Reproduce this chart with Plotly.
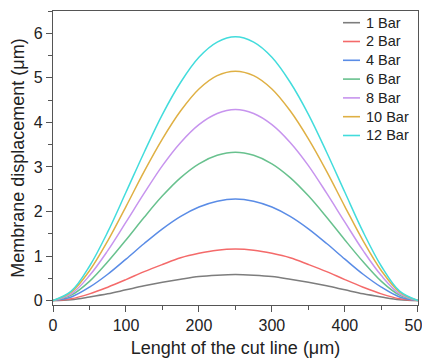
import plotly.graph_objects as go

# Length along the cut line (µm)
x_um = [0, 25, 50, 75, 100, 125, 150, 175, 200, 225, 250,
        275, 300, 325, 350, 375, 400, 425, 450, 475, 500]

# Membrane displacement (µm)
bar1 = [0, 0.02, 0.08, 0.15, 0.24, 0.33, 0.41, 0.48, 0.54, 0.57, 0.585,
        0.57, 0.54, 0.48, 0.41, 0.33, 0.24, 0.15, 0.08, 0.02, 0]
bar2 = [0, 0.04, 0.15, 0.30, 0.47, 0.65, 0.81, 0.96, 1.06, 1.13, 1.155,
        1.13, 1.06, 0.96, 0.81, 0.65, 0.47, 0.30, 0.15, 0.04, 0]
bar4 = [0, 0.08, 0.30, 0.59, 0.93, 1.28, 1.61, 1.89, 2.10, 2.23, 2.28,
        2.23, 2.10, 1.89, 1.61, 1.28, 0.93, 0.59, 0.30, 0.08, 0]
bar6 = [0, 0.12, 0.43, 0.87, 1.36, 1.87, 2.35, 2.76, 3.07, 3.26, 3.33,
        3.26, 3.07, 2.76, 2.35, 1.87, 1.36, 0.87, 0.43, 0.12, 0]
bar8 = [0, 0.15, 0.56, 1.12, 1.76, 2.41, 3.03, 3.55, 3.95, 4.20, 4.29,
        4.20, 3.95, 3.55, 3.03, 2.41, 1.76, 1.12, 0.56, 0.15, 0]
bar10 = [0, 0.19, 0.67, 1.34, 2.11, 2.90, 3.63, 4.26, 4.75, 5.05, 5.15,
         5.05, 4.75, 4.26, 3.63, 2.90, 2.11, 1.34, 0.67, 0.19, 0]
bar12 = [0, 0.21, 0.77, 1.54, 2.43, 3.33, 4.18, 4.90, 5.46, 5.80, 5.92,
         5.80, 5.46, 4.90, 4.18, 3.33, 2.43, 1.54, 0.77, 0.21, 0]

series_names = ["1 Bar", "2 Bar", "4 Bar", "6 Bar", "8 Bar", "10 Bar", "12 Bar"]
series_values = [bar1, bar2, bar4, bar6, bar8, bar10, bar12]
colors = ["#7d7d7d", "#f46a6a", "#5a8ce6", "#68c18e", "#c794ee", "#dfb044", "#42dcdc"]

x_ticks = [0, 100, 200, 300, 400, 500]
y_ticks = [0, 1, 2, 3, 4, 5, 6]

FONT = "Liberation Sans, Arial, sans-serif"
PAGE_OFF = 8  # browser default body margin
W, H = 430 - PAGE_OFF, 358 - PAGE_OFF
ML, MR, MT, MB = 53 - PAGE_OFF, 12, 11 - PAGE_OFF, 53
PW, PH = W - ML - MR, H - MT - MB

fig = go.Figure()
for name, vals, col in zip(series_names, series_values, colors):
    fig.add_trace(go.Scatter(
        x=x_um, y=vals, name=name, mode="lines", showlegend=False,
        line=dict(color=col, width=1.5, shape="spline", smoothing=1.0),
    ))

# Manual legend (compact row spacing like the reference); positions in screen px
def px_to_paper(px, py):
    fx, fy = px - PAGE_OFF, py - PAGE_OFF
    return (fx - ML) / PW, (H - MB - fy) / PH

row0, row_gap = 22.7, 18.8
for i, (name, col) in enumerate(zip(series_names, colors)):
    py = row0 + i * row_gap
    x0, y0 = px_to_paper(343, py)
    x1, _ = px_to_paper(360, py)
    xt, _ = px_to_paper(364, py)
    fig.add_shape(type="line", xref="paper", yref="paper",
                  x0=x0, x1=x1, y0=y0, y1=y0,
                  line=dict(color=col, width=1.6))
    fig.add_annotation(xref="paper", yref="paper", x=xt, y=y0,
                       xanchor="left", yanchor="middle", showarrow=False,
                       text=name, font=dict(family=FONT, size=14.5, color="#222222"))

axis_common = dict(
    showline=True, mirror=True, linecolor="#555555", linewidth=1.3,
    ticks="outside", ticklen=6, tickwidth=1.2, tickcolor="#555555",
    showgrid=False, zeroline=False, automargin=False,
    ticklabeloverflow="allow",
    tickfont=dict(family=FONT, size=16, color="#222222"),
)

fig.update_xaxes(
    range=[0, 500.2], tickvals=x_ticks,
    minor=dict(ticks="outside", ticklen=3.5, dtick=50, tick0=0, tickcolor="#555555", tickwidth=1.1),
    title=dict(text="Lenght of the cut line (μm)", font=dict(family=FONT, size=18, color="#222222"), standoff=8),
    **axis_common,
)
fig.update_yaxes(
    range=[-0.1, 6.5], tickvals=y_ticks,
    minor=dict(ticks="outside", ticklen=3.5, dtick=0.5, tick0=0, tickcolor="#555555", tickwidth=1.1),
    title=dict(text="Membrane displacement (μm)", font=dict(family=FONT, size=18, color="#222222"), standoff=6),
    **axis_common,
)

fig.update_layout(
    width=W, height=H,
    margin=dict(l=ML, r=MR, t=MT, b=MB),
    paper_bgcolor="white", plot_bgcolor="white",
    font=dict(family=FONT, color="#222222"),
    showlegend=False,
)

fig.write_html("out.html")
